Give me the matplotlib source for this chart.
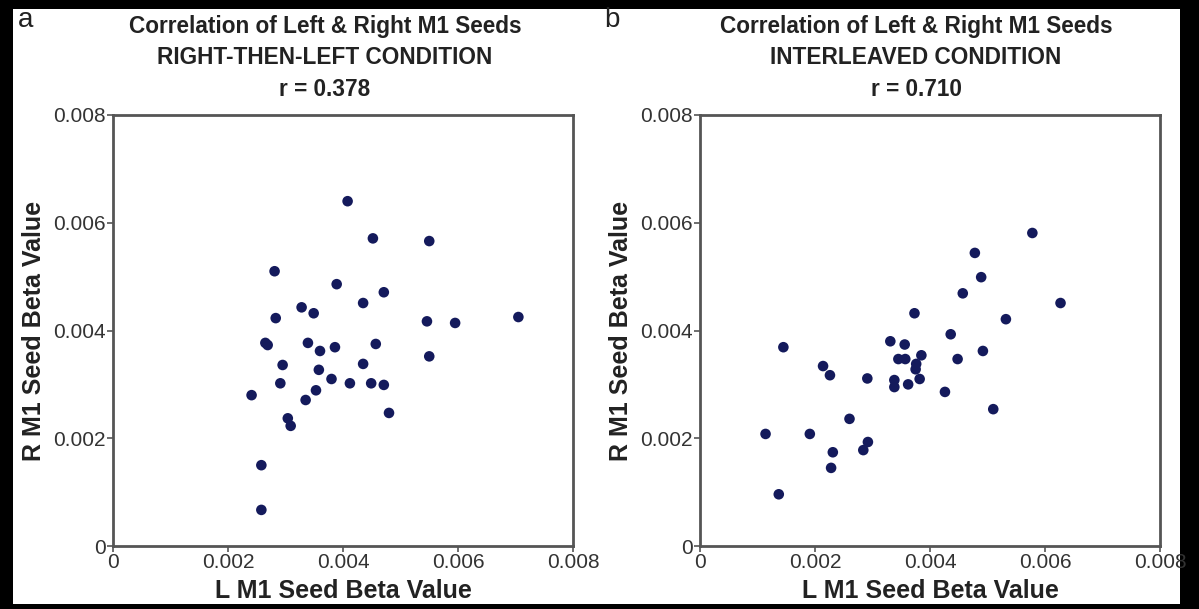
import numpy as np
import matplotlib.pyplot as plt
from matplotlib.patches import Rectangle

plt.rcParams['font.family'] = ['Liberation Sans', 'DejaVu Sans']

# panel a: right-then-left condition (values x 1e-3)
left_a = [4.08, 4.52, 5.50, 2.81, 3.89, 4.71, 4.35, 3.28, 3.49, 2.83, 5.46, 5.95, 7.05,
          2.65, 2.69, 3.39, 3.60, 3.86, 4.57, 5.50, 2.95, 3.58, 4.35, 2.91, 3.80, 4.12,
          4.49, 4.71, 3.53, 2.41, 3.35, 4.80, 3.04, 3.09, 2.58, 2.58]
right_a = [6.40, 5.71, 5.66, 5.10, 4.86, 4.71, 4.51, 4.43, 4.32, 4.23, 4.17, 4.14, 4.25,
           3.77, 3.73, 3.77, 3.62, 3.69, 3.75, 3.52, 3.36, 3.27, 3.38, 3.02, 3.10, 3.02,
           3.02, 2.99, 2.89, 2.80, 2.71, 2.47, 2.37, 2.23, 1.50, 0.67]

# panel b: interleaved condition (values x 1e-3)
left_b = [5.78, 4.78, 4.89, 4.57, 6.27, 3.73, 5.32, 4.36, 3.31, 3.56, 1.45, 4.92, 3.45,
          3.57, 3.85, 4.48, 2.14, 2.26, 3.75, 3.76, 3.82, 2.91, 3.38, 3.38, 3.62, 4.26,
          5.10, 2.60, 1.14, 1.91, 2.92, 2.84, 2.31, 2.28, 1.37]
right_b = [5.81, 5.44, 4.99, 4.69, 4.51, 4.32, 4.21, 3.93, 3.80, 3.74, 3.69, 3.62, 3.47,
           3.47, 3.54, 3.47, 3.34, 3.17, 3.28, 3.38, 3.10, 3.11, 3.08, 2.95, 3.00, 2.86,
           2.54, 2.36, 2.08, 2.08, 1.93, 1.78, 1.74, 1.45, 0.96]

titles_a = ['Correlation of Left & Right M1 Seeds', 'RIGHT-THEN-LEFT CONDITION', 'r = 0.378']
titles_b = ['Correlation of Left & Right M1 Seeds', 'INTERLEAVED CONDITION', 'r = 0.710']
ticks = [0, 0.002, 0.004, 0.006, 0.008]
tick_labels = ['0', '0.002', '0.004', '0.006', '0.008']

W, H = 1199, 609
fig = plt.figure(figsize=(W / 100, H / 100), dpi=100)
fig.patch.set_facecolor('black')
fig.patches.append(Rectangle((13 / W, 5 / H), (1180 - 13) / W, (600 - 5) / H,
                             transform=fig.transFigure, facecolor='white',
                             edgecolor='none', zorder=-5))

dot = '#141a5c'
panels = [(113, left_a, right_a, titles_a, 325, 'a', 18),
          (700, left_b, right_b, titles_b, 916, 'b', 604)]

for x0, lx, ry, tt, tx, letter, lx0 in panels:
    ax = fig.add_axes([x0 / W, 1 - 546 / H, 460 / W, 431 / H])
    ax.set_facecolor('white')
    ax.scatter(np.array(lx) * 1e-3, np.array(ry) * 1e-3, s=58, color=dot,
               edgecolors='none', zorder=3, clip_on=False)
    ax.set_xlim(0, 0.008)
    ax.set_ylim(0, 0.008)
    ax.set_xticks(ticks)
    ax.set_xticklabels(tick_labels)
    ax.set_yticks(ticks)
    ax.set_yticklabels(tick_labels)
    for sp in ax.spines.values():
        sp.set_color('#555555')
        sp.set_linewidth(2)
    ax.tick_params(direction='out', length=4, width=1.2, color='#555555',
                   labelsize=15, labelcolor='#333333', pad=1)
    ax.set_xlabel('L M1 Seed Beta Value', fontsize=18, fontweight='bold',
                  color='#222222', labelpad=5)
    ax.set_ylabel('R M1 Seed Beta Value', fontsize=18, fontweight='bold',
                  color='#222222', labelpad=5)
    for i, line in enumerate(tt):
        fig.text(tx / W, 1 - (27 + 31 * i) / H, line, ha='center', va='center',
                 fontsize=16.3, fontweight='bold', color='#222222')
    fig.text(lx0 / W, 1 - 20 / H, letter, ha='left', va='center',
             fontsize=20, color='#222222')

fig.savefig('out.png', dpi=100, facecolor=fig.get_facecolor())
